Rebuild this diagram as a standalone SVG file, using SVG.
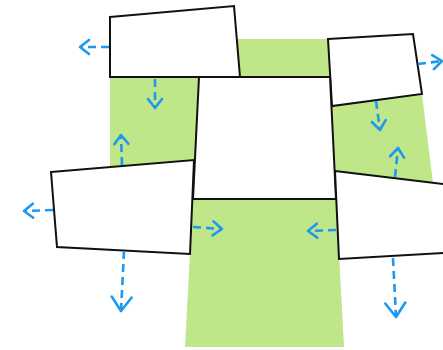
<svg xmlns="http://www.w3.org/2000/svg" width="443" height="350" viewBox="0 0 443 350">
  <style>
    .zone { fill: #bfe78a; stroke: none; }
    .box { fill: #ffffff; stroke: #111111; stroke-width: 2; stroke-linejoin: miter; }
    .flow { fill: none; stroke: #1e98f0; stroke-width: 2.6; stroke-dasharray: 8 5; }
    .head { fill: none; stroke: #1e98f0; stroke-width: 2.6; stroke-linecap: round; stroke-linejoin: round; }
  </style>
  <defs>
    <marker id="head" markerUnits="userSpaceOnUse" markerWidth="24" markerHeight="24" viewBox="-12 -12 24 24" refX="0" refY="0" orient="auto" overflow="visible">
      <path class="head" d="M -9 -7 L 0 0 L -9 7"/>
    </marker>
    <marker id="head-large" markerUnits="userSpaceOnUse" markerWidth="30" markerHeight="30" viewBox="-15 -15 30 30" refX="0" refY="0" orient="auto" overflow="visible">
      <path class="head" d="M -14 -10 L 0 0 L -14 10"/>
    </marker>
  </defs>

  <g id="zones">
    <polygon class="zone" points="236,39 328,39 331,80 236,80"/>
    <polygon class="zone" points="110,76 200,76 197,170 110,170"/>
    <polygon class="zone" points="331,106 422,94 433,183 335,178"/>
    <polygon class="zone" points="193,197 336,197 344,347 185,347"/>
  </g>

  <g id="node-top-left">
    <polygon class="box" points="110,17 234,6 240,77 110,77"/>
  </g>
  <g id="node-top-right">
    <polygon class="box" points="328,39 413,34 422,94 332,106"/>
  </g>
  <g id="node-center">
    <polygon class="box" points="199,77 330,77 336,199 193,199"/>
  </g>
  <g id="node-bottom-left">
    <polygon class="box" points="51,172 194,160 190,254 57,247"/>
  </g>
  <g id="node-bottom-right">
    <polygon class="box" points="335,171 460,186 460,252 339,259"/>
  </g>

  <g id="connectors">
    <line class="flow" x1="109" y1="47" x2="80" y2="47" marker-end="url(#head)"/>
    <line class="flow" x1="155" y1="79" x2="155" y2="108" marker-end="url(#head)"/>
    <line class="flow" x1="418" y1="64" x2="442" y2="61" marker-end="url(#head)"/>
    <line class="flow" x1="376" y1="101" x2="380" y2="130" marker-end="url(#head)"/>
    <line class="flow" x1="395" y1="177" x2="398" y2="148" marker-end="url(#head)"/>
    <line class="flow" x1="122" y1="165" x2="121" y2="135" marker-end="url(#head)"/>
    <line class="flow" x1="53" y1="210" x2="24" y2="211" marker-end="url(#head)"/>
    <line class="flow" x1="124" y1="251" x2="121" y2="311" marker-end="url(#head-large)"/>
    <line class="flow" x1="193" y1="227" x2="222" y2="229" marker-end="url(#head)"/>
    <line class="flow" x1="336" y1="230" x2="308" y2="231" marker-end="url(#head)"/>
    <line class="flow" x1="393" y1="258" x2="396" y2="317" marker-end="url(#head-large)"/>
  </g>
</svg>
